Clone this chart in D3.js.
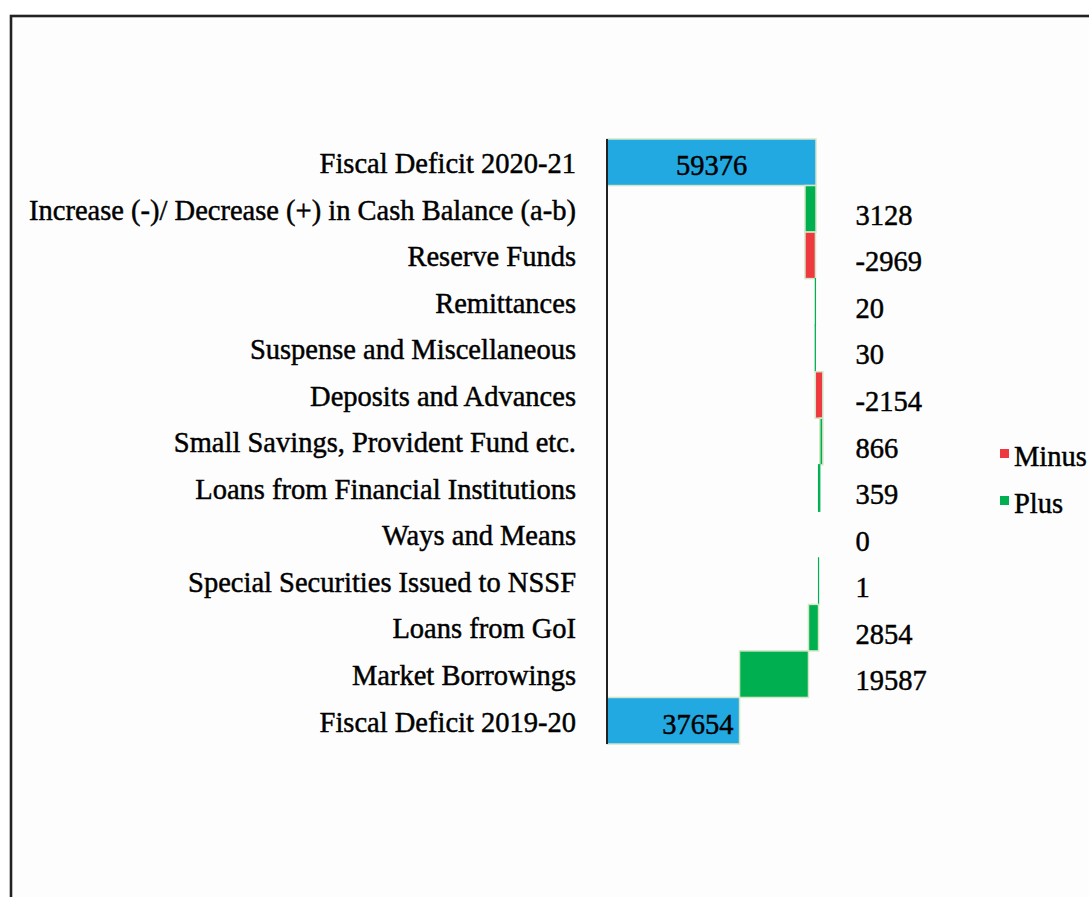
<!DOCTYPE html>
<html>
<head>
<meta charset="utf-8">
<script src="https://cdn.jsdelivr.net/npm/d3@7"></script>
<style>
  html, body { margin: 0; padding: 0; background: #ffffff; }
  svg { display: block; }
  text { font-family: "Liberation Serif", "Times New Roman", serif; fill: #000; stroke: #000; stroke-width: 0.45px; }
</style>
</head>
<body>
<svg id="chart" width="1089" height="897"></svg>
<script>
// Rows from top to bottom of the waterfall
const categories = [
  "Fiscal Deficit 2020-21",
  "Increase (-)/ Decrease (+) in Cash Balance (a-b)",
  "Reserve Funds",
  "Remittances",
  "Suspense and Miscellaneous",
  "Deposits and Advances",
  "Small Savings, Provident Fund etc.",
  "Loans from Financial Institutions",
  "Ways and Means",
  "Special Securities Issued to NSSF",
  "Loans from GoI",
  "Market Borrowings",
  "Fiscal Deficit 2019-20"
];
const values = [59376, 3128, -2969, 20, 30, -2154, 866, 359, 0, 1, 2854, 19587, 37654];
// "total" rows start at zero, "change" rows float on the running sum
const rowKinds = ["total", "change", "change", "change", "change", "change", "change",
                  "change", "change", "change", "change", "change", "total"];
const legendItems = ["Minus", "Plus"];

const colors = { total: "#23a9e1", Minus: "#ee3a3f", Plus: "#00b050", edge: "#d3e6c6" };
const fontSize = 28.5;

const svg = d3.select("#chart");

// outer frame
svg.append("rect")
  .attr("x", 11).attr("y", 16)
  .attr("width", 1200).attr("height", 1000)
  .attr("fill", "#fdfdfd")
  .attr("stroke", "#222").attr("stroke-width", 2.6);

const x = d3.scaleLinear().domain([0, 70000]).range([607, 853.4]);
const y = d3.scaleBand().domain(categories).range([139, 744]).padding(0);

// running sum from the bottom row upward
const rows = categories.map((c, i) => ({ cat: c, value: values[i], kind: rowKinds[i] }));
let running = 0;
for (let i = rows.length - 1; i >= 0; i--) {
  const r = rows[i];
  if (r.kind === "total") {
    r.x0 = 0; r.x1 = r.value; running = r.value;
  } else {
    r.x0 = running; r.x1 = running + r.value; running = r.x1;
  }
}

const fillOf = d => d.kind === "total" ? colors.total : (d.value < 0 ? colors.Minus : colors.Plus);

const g = svg.append("g");

g.selectAll("rect.bar")
  .data(rows)
  .join("rect")
  .attr("class", "bar")
  .attr("x", d => x(Math.min(d.x0, d.x1)))
  .attr("y", d => y(d.cat))
  .attr("width", d => Math.abs(x(d.x1) - x(d.x0)))
  .attr("height", y.bandwidth())
  .attr("fill", fillOf)
  // hairline bars keep their colour as a 1px sliver
  .attr("stroke", d => (d.value !== 0 && Math.abs(x(d.x1) - x(d.x0)) < 2) ? fillOf(d) : colors.edge)
  .attr("stroke-width", d => (d.value !== 0 && Math.abs(x(d.x1) - x(d.x0)) < 2) ? 1.2 : 1.5);

// vertical category axis
const axis = d3.axisLeft(y).tickSize(0).tickPadding(31);
const axisG = g.append("g")
  .attr("transform", `translate(${x(0)},0)`)
  .call(axis);
axisG.select(".domain").attr("stroke", "#222").attr("stroke-width", 2).attr("d", `M0,139V744`);
axisG.selectAll(".tick text")
  .attr("font-size", fontSize)
  .attr("dy", "0.38em");

// value labels
rows.forEach((d, i) => {
  const cy = y(d.cat) + y.bandwidth() / 2;
  if (d.kind === "total") {
    const t = g.append("text")
      .attr("font-size", fontSize)
      .attr("y", cy + 13)
      .text(d.value);
    if (i === 0) {
      t.attr("x", (x(d.x0) + x(d.x1)) / 2).attr("text-anchor", "middle");
    } else {
      t.attr("x", x(d.x1) - 6).attr("text-anchor", "end");
    }
  } else {
    g.append("text")
      .attr("font-size", fontSize)
      .attr("x", x(70000) + 2)
      .attr("y", cy + 16)
      .text(d.value);
  }
});

// legend
const legend = svg.append("g").attr("transform", "translate(1000,455)");
legendItems.forEach((name, i) => {
  const item = legend.append("g").attr("transform", `translate(0,${i * 47})`);
  item.append("rect").attr("x", 0).attr("y", -6).attr("width", 9).attr("height", 9)
    .attr("fill", colors[name]);
  item.append("text").attr("x", 14).attr("y", 11).attr("font-size", fontSize).text(name);
});
</script>
</body>
</html>
